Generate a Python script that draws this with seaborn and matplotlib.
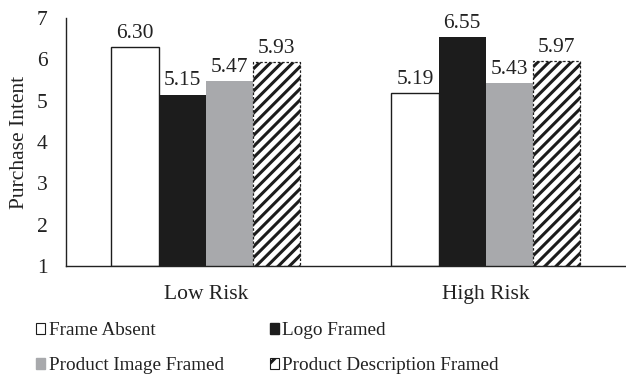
import matplotlib
matplotlib.use("Agg")
import matplotlib.pyplot as plt
import seaborn as sns
import pandas as pd
from matplotlib.patches import Patch

categories = ["Low Risk", "High Risk"]
series = ["Frame Absent", "Logo Framed", "Product Image Framed", "Product Description Framed"]
frame_absent = [6.30, 5.19]
logo_framed = [5.15, 6.55]
image_framed = [5.47, 5.43]
description_framed = [5.93, 5.97]
yticks = [1, 2, 3, 4, 5, 6, 7]

values = [frame_absent, logo_framed, image_framed, description_framed]
rows = []
for s, vals in zip(series, values):
    for c, v in zip(categories, vals):
        rows.append({"Risk": c, "Frame": s, "Value": v})
df = pd.DataFrame(rows)

sns.set_theme(style="white")
plt.rcParams["font.family"] = ["Liberation Serif", "DejaVu Serif"]
plt.rcParams["hatch.linewidth"] = 2.2

FS = 15.5
LFS = 13.8
fig = plt.figure(figsize=(6.26, 3.85), dpi=100)
ax = fig.add_axes([0.105, 0.309, 0.895, 0.644])

fills = ["white", "#1c1c1c", "#a8a9ac", "white"]
palette = dict(zip(series, fills))
sns.barplot(data=df, x="Risk", y="Value", hue="Frame", order=categories,
            hue_order=series, palette=palette, width=0.675, ax=ax,
            legend=False, saturation=1)

text_color = "#222222"
for i, cont in enumerate(ax.containers):
    for bar in cont:
        h = bar.get_height()
        bar.set_y(1)
        bar.set_height(h - 1)
        if i == 0:
            bar.set_edgecolor("#1c1c1c")
            bar.set_linewidth(1.0)
        elif i == 3:
            bar.set_hatch("///")
            bar.set_edgecolor("#1c1c1c")
            bar.set_linestyle((0, (2, 1.5)))
            bar.set_linewidth(0.9)
        else:
            bar.set_edgecolor(fills[i])
            bar.set_linewidth(0)
    for bar, v in zip(cont, values[i]):
        ax.text(bar.get_x() + bar.get_width() / 2, v + 0.1, f"{v:.2f}",
                ha="center", va="bottom", fontsize=FS, color=text_color)

ax.set_ylim(1, 7)
ax.set_xlim(-0.5, 1.5)
ax.set_yticks(yticks)
ax.set_yticklabels([str(t) for t in yticks], fontsize=FS, color=text_color)
ax.tick_params(axis="x", labelsize=FS, colors=text_color, pad=14, length=0)
ax.tick_params(axis="y", length=0, pad=13)
ax.set_xlabel("")
ax.set_ylabel("Purchase Intent", fontsize=FS, color=text_color, labelpad=6)
for side in ["top", "right"]:
    ax.spines[side].set_visible(False)
ax.spines["left"].set_color("#222222")
ax.spines["bottom"].set_color("#222222")
ax.spines["left"].set_linewidth(1.0)
ax.spines["bottom"].set_linewidth(1.0)

handles = [
    Patch(facecolor="white", edgecolor="#1c1c1c", linewidth=0.8),
    Patch(facecolor="#1c1c1c", edgecolor="#1c1c1c"),
    Patch(facecolor="#a8a9ac", edgecolor="#a8a9ac"),
    Patch(facecolor="white", edgecolor="#1c1c1c", hatch="//", linewidth=0.8),
]
order = [0, 2, 1, 3]
fig.legend([handles[k] for k in order], [series[k] for k in order], ncol=2,
           loc="upper left", bbox_to_anchor=(0.057, 0.163),
           frameon=False, fontsize=LFS, handlelength=0.47, handleheight=0.47,
           handletextpad=0.2, columnspacing=2.4, labelspacing=0.95,
           labelcolor=text_color, borderaxespad=0, borderpad=0)

fig.savefig("out.png", dpi=100)
